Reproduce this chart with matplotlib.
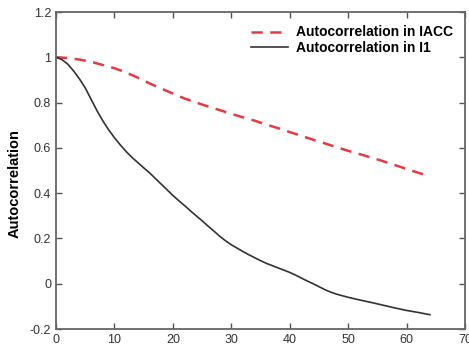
import numpy as np
import matplotlib.pyplot as plt

# lag values and autocorrelation
lag_iacc = [0, 2, 4, 6, 8, 10, 12, 14, 16, 18, 20, 22, 24, 26, 28, 30, 32, 34, 36, 38, 40,
            42, 44, 46, 48, 50, 52, 54, 56, 58, 60, 62, 64]
acf_iacc = [1.0, 0.997, 0.99, 0.98, 0.966, 0.952, 0.933, 0.91, 0.885, 0.862, 0.84, 0.818,
            0.8, 0.783, 0.767, 0.75, 0.735, 0.72, 0.703, 0.687, 0.67, 0.653, 0.636, 0.62,
            0.603, 0.587, 0.572, 0.557, 0.541, 0.524, 0.507, 0.49, 0.475]

lag_i1 = [0, 1, 2, 3, 4, 5, 6, 7, 8, 9, 10, 11, 12, 13, 14, 15, 16, 17, 18, 19, 20, 21, 22,
          23, 24, 25, 26, 27, 28, 29, 30, 31, 32, 33, 34, 35, 36, 37, 38, 39, 40, 41, 42,
          43, 44, 45, 46, 47, 48, 49, 50, 52, 54, 56, 58, 60, 62, 64]
acf_i1 = [1.0, 0.99, 0.97, 0.94, 0.905, 0.865, 0.815, 0.765, 0.72, 0.68, 0.645, 0.613, 0.584,
          0.558, 0.535, 0.512, 0.49, 0.465, 0.44, 0.415, 0.39, 0.367, 0.345, 0.322, 0.3,
          0.278, 0.255, 0.233, 0.21, 0.19, 0.172, 0.157, 0.142, 0.128, 0.115, 0.102, 0.09,
          0.08, 0.07, 0.06, 0.05, 0.038, 0.025, 0.012, 0.0, -0.013, -0.026, -0.037, -0.046,
          -0.053, -0.06, -0.072, -0.083, -0.095, -0.107, -0.118, -0.127, -0.137]

plt.rcParams['font.family'] = ['Liberation Sans', 'DejaVu Sans']

fig = plt.figure(figsize=(4.69, 3.49), dpi=100)
ax = fig.add_axes([0.1194, 0.0573, 0.8721, 0.9083])

ax.plot(lag_iacc, acf_iacc, color="#e8393f", lw=1.8, linestyle=(0, (4.5, 3)),
        label="Autocorrelation in IACC")
ax.plot(lag_i1, acf_i1, color="#333333", lw=1.2, label="Autocorrelation in I1")

ax.set_xlim(0, 70)
ax.set_ylim(-0.2, 1.2)
ax.set_xticks(np.arange(0, 71, 10))
ax.set_yticks([-0.2, 0, 0.2, 0.4, 0.6, 0.8, 1, 1.2])
ax.set_yticklabels(["-0.2", "0", "0.2", "0.4", "0.6", "0.8", "1", "1.2"])

ax.tick_params(direction="in", top=True, right=True, length=4, width=1,
               colors="#555555", labelcolor="#333333", labelsize=9)
for s in ax.spines.values():
    s.set_color("#666666")
    s.set_linewidth(1.3)

ax.set_ylabel("Autocorrelation", fontsize=10.5, fontweight="bold")
ax.yaxis.set_label_coords(-0.085, 0.46)

leg = ax.legend(loc="upper right", bbox_to_anchor=(0.984, 0.975), borderaxespad=0,
                frameon=False, prop={"weight": "bold", "size": 10},
                handlelength=2.6, handletextpad=0.6, labelspacing=0.1)

fig.savefig("out.png", dpi=100)
